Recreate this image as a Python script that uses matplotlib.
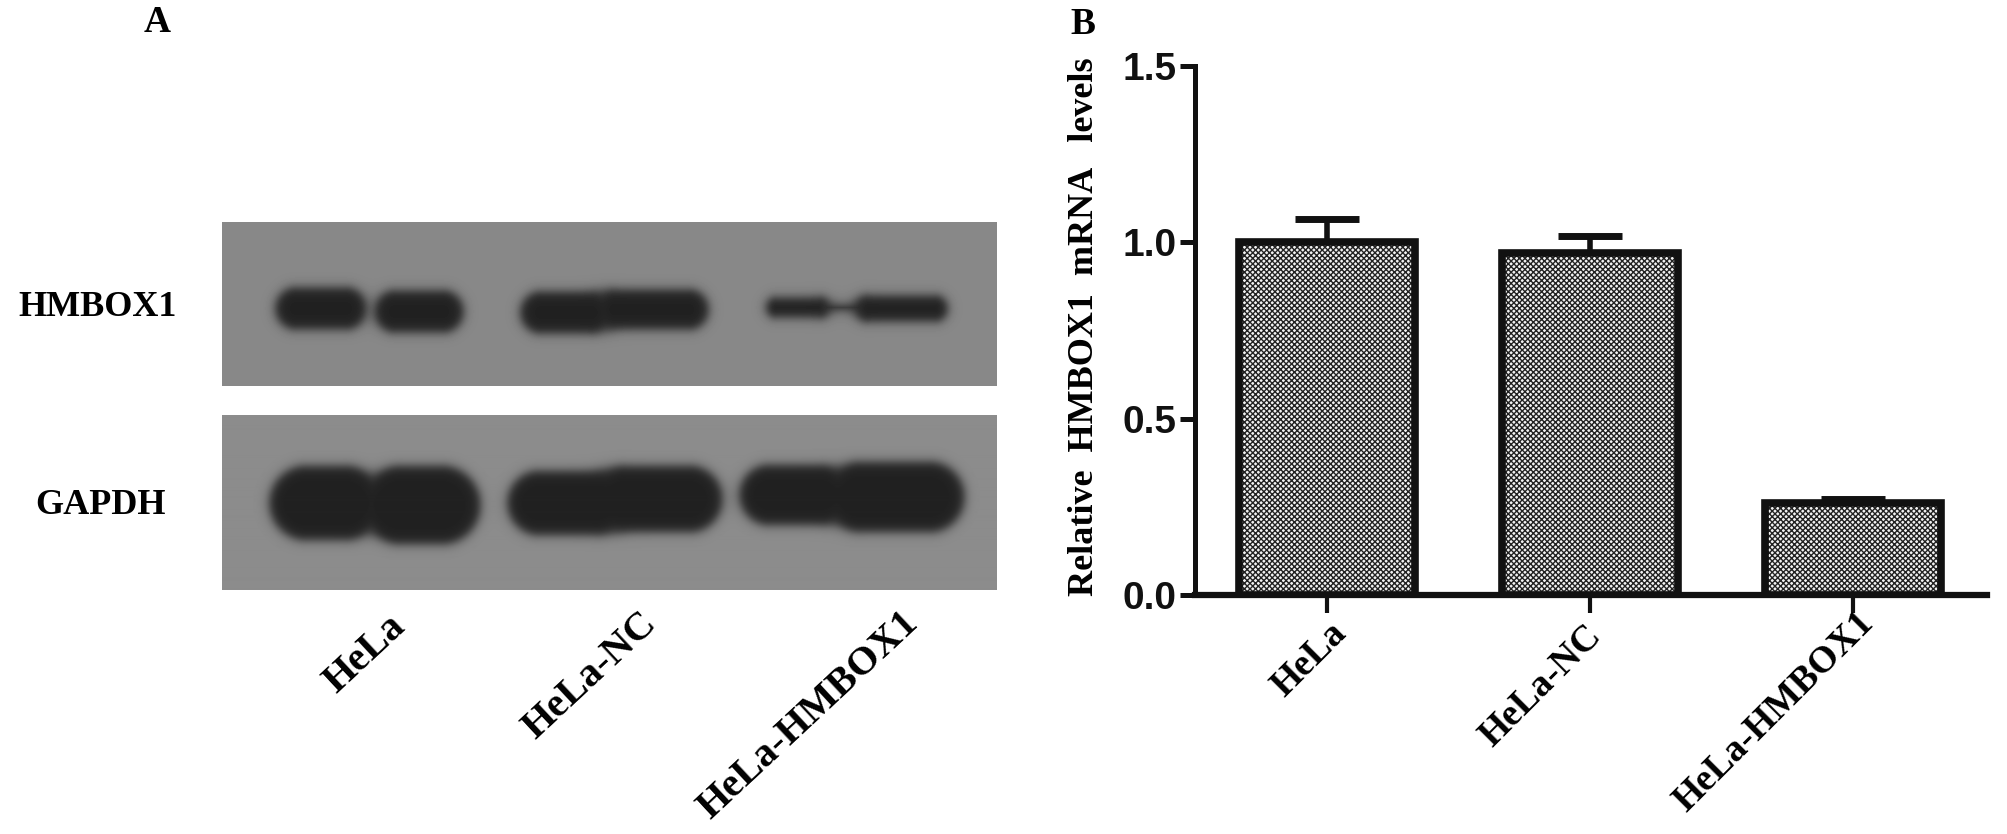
import numpy as np
import matplotlib
matplotlib.use('Agg')
from matplotlib import pyplot as plt

SERIF = 'Liberation Serif'
SANS = 'Liberation Sans'

# bar chart values
groups = ['HeLa', 'HeLa-NC', 'HeLa-HMBOX1']
means = [1.0, 0.97, 0.26]
errors = [0.067, 0.047, 0.012]
y_ticks = [0.0, 0.5, 1.0, 1.5]

# blot rows, band pieces: x start, x end, centre y, radius
row_names = ['HMBOX1', 'GAPDH']
hmbox1_bands = [(296, 345, 308, 21), (395, 442, 311, 21), (541, 590, 312, 21), (615, 688, 309, 20),
                (776, 818, 307, 10), (826, 858, 307, 2), (868, 934, 308, 13)]
gapdh_bands = [(306, 345, 503, 37), (400, 441, 505, 39), (539, 595, 503, 32), (625, 689, 499, 33),
               (769, 820, 495, 30), (860, 929, 497, 35)]

plt.rcParams['hatch.linewidth'] = 1.0


def blot(bands, x0, x1, y0, y1, background):
    xx, yy = np.meshgrid(np.arange(x0, x1), np.arange(y0, y1))
    k = 5.0
    total = np.zeros(xx.shape)
    for xa, xb, cy, r in bands:
        dx = xx - np.clip(xx, xa, xb)
        total += np.exp(-np.clip((np.hypot(dx, yy - cy) - r) / k, -50, 50))
    dist = -k * np.log(total + 1e-30)
    dark = 1 / (1 + np.exp(dist / 3.0))
    return background * (1 - dark) + 33 * dark


fig = plt.figure(figsize=(20.08, 8.34), dpi=100)
W, H = 2008.0, 834.0


def px_axes(x0, y0, x1, y1):
    return fig.add_axes([x0 / W, 1 - y1 / H, (x1 - x0) / W, (y1 - y0) / H])


# panel A
for bands, box, bg in [(hmbox1_bands, (222, 222, 997, 386), 136), (gapdh_bands, (222, 415, 997, 590), 140)]:
    ax = px_axes(*box)
    ax.imshow(blot(bands, box[0], box[2], box[1], box[3], bg), cmap='gray', vmin=0, vmax=255,
              aspect='auto', interpolation='bilinear')
    ax.axis('off')

for name, y, x in zip(row_names, [308, 505], [98, 101]):
    fig.text(x / W, 1 - y / H, name, family=SERIF, weight='bold', fontsize=26, ha='center', va='center')

for name, x, y in zip(groups, [365, 590, 809], [654, 676, 715]):
    fig.text(x / W, 1 - y / H, name, family=SERIF, weight='bold', fontsize=29, rotation=43,
             ha='center', va='center')

fig.text(157 / W, 1 - 23 / H, 'A', family=SERIF, weight='bold', fontsize=27, ha='center', va='center')
fig.text(1083 / W, 1 - 24 / H, 'B', family=SERIF, weight='bold', fontsize=27, ha='center', va='center')

# panel B
ax = px_axes(1195, 66, 1987, 595)
ax.set_ylim(0, 1.5)
x_pos = np.arange(3)
ax.set_xlim(-(1327 - 1195) / 263.0, (1987 - 1327) / 263.0)

ax.bar(x_pos, means, width=0.67, facecolor='#f2f2f2', edgecolor='#222222', hatch='xxxxxx', linewidth=0, zorder=2)
ax.bar(x_pos, means, width=0.67, fill=False, edgecolor='#111111', linewidth=5.5, zorder=3)
ax.errorbar(x_pos, means, yerr=[np.zeros(3), errors], fmt='none', ecolor='#111111', elinewidth=4,
            capsize=23, capthick=5, zorder=1)

for s in ['top', 'right']:
    ax.spines[s].set_visible(False)
ax.spines['left'].set_linewidth(3.6)
ax.spines['bottom'].set_linewidth(4.5)
ax.spines['bottom'].set_color('#111111')
ax.spines['left'].set_color('#111111')
ax.spines['left'].set_zorder(4)
ax.spines['bottom'].set_zorder(4)
ax.set_yticks(y_ticks)
ax.set_yticklabels(['%.1f' % v for v in y_ticks], family=SANS, weight='bold', fontsize=28, color='#111111')
ax.tick_params(axis='y', length=11, width=3.6, pad=2, color='#111111')
ax.set_xticks(x_pos)
ax.set_xticklabels([])
ax.tick_params(axis='x', length=13, width=3, color='#111111')
ax.patch.set_alpha(0)

fig.text(1085 / W, 1 - 327 / H, 'Relative  HMBOX1  mRNA   levels', family=SERIF, weight='bold', fontsize=26,
         rotation=90, ha='center', va='center')
for name, x, y in zip(groups, [1309, 1541, 1774], [660, 686, 712]):
    fig.text(x / W, 1 - y / H, name, family=SERIF, weight='bold', fontsize=27, rotation=45,
             ha='center', va='center')

plt.savefig('out.png', dpi=100)
